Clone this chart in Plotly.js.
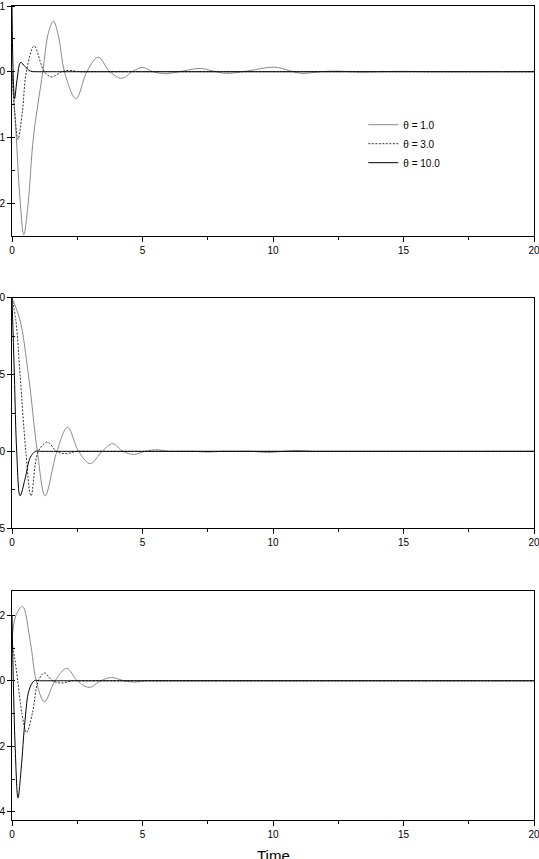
<!DOCTYPE html>
<html>
<head>
<meta charset="utf-8">
<script src="https://cdn.plot.ly/plotly-3.0.1.min.js"></script>
<style>
  html, body { margin: 0; padding: 0; background: #fff; }
  #responseChart { width: 539px; height: 859px; }
</style>
</head>
<body>
<div id="responseChart"></div>
<script>
// Legend names
var thetaLabels = ["\u03b8 = 1.0", "\u03b8 = 3.0", "\u03b8 = 10.0"];
var timeLabel = "Time";

// Top panel
var topTime1 = [0, 0.15, 0.3, 0.45, 0.62, 0.82, 1.18, 1.4, 1.59, 1.8, 2.01, 2.45, 2.87, 3.3, 3.75, 4.2, 4.6, 5.0, 5.4, 5.85, 6.4, 7.2, 7.7, 8.2, 9.0, 10.05, 10.6, 11.1, 11.8, 12.5, 13.3, 14.0, 15.0, 16.0, 17.0, 18.0, 19.0, 20.0];
var topValue1 = [0, -0.9, -1.9, -2.48, -2.0, -1.0, 0, 0.6, 0.77, 0.5, 0, -0.41, 0, 0.22, 0, -0.10, 0, 0.065, 0, -0.03, 0, 0.05, 0.01, -0.025, 0.01, 0.07, 0.02, -0.025, 0, 0.01, -0.005, 0, 0.006, 0, 0, 0, 0, 0];
var topTime3 = [0, 0.1, 0.23, 0.4, 0.55, 0.85, 1.24, 1.53, 1.9, 2.2, 2.6, 3.0, 3.5, 4.5, 6.0, 8.0, 10.0, 12.0, 14.0, 16.0, 18.0, 20.0];
var topValue3 = [0, -0.6, -1.03, -0.6, 0, 0.39, 0, -0.08, 0, 0.02, 0, 0, 0, 0, 0, 0, 0, 0, 0, 0, 0, 0];
var topTime10 = [0, 0.05, 0.1, 0.2, 0.33, 0.5, 0.7, 1.0, 1.3, 1.7, 2.3, 3.0, 4.0, 6.0, 8.0, 10.0, 12.0, 14.0, 16.0, 18.0, 20.0];
var topValue10 = [1.0, -0.1, -0.41, -0.1, 0.14, 0.08, 0.01, 0, 0, 0, 0, 0, 0, 0, 0, 0, 0, 0, 0, 0, 0];

// Middle panel
var midTime1 = [0, 0.3, 0.63, 0.97, 1.27, 1.72, 2.13, 2.55, 3.0, 3.45, 3.86, 4.25, 4.67, 5.1, 5.56, 6.0, 6.5, 7.0, 7.5, 8.0, 8.5, 9.2, 9.8, 10.4, 10.95, 11.5, 12.0, 13.0, 14.0, 15.0, 16.0, 17.0, 18.0, 19.0, 20.0];
var midValue1 = [1.0, 0.86, 0.5, 0, -0.29, 0, 0.157, 0, -0.08, 0, 0.05, 0, -0.02, 0, 0.01, 0, 0, 0, -0.005, 0, 0, 0, -0.008, 0, 0.006, 0, 0, 0, 0, 0, 0, 0, 0, 0, 0];
var midTime3 = [0, 0.15, 0.31, 0.53, 0.73, 1.01, 1.36, 1.7, 2.04, 2.5, 3.0, 3.5, 4.5, 6.0, 8.0, 10.0, 12.0, 14.0, 16.0, 18.0, 20.0];
var midValue3 = [1.0, 0.85, 0.5, 0, -0.29, 0, 0.06, 0, -0.015, 0, 0, 0, 0, 0, 0, 0, 0, 0, 0, 0, 0];
var midTime10 = [0, 0.09, 0.18, 0.31, 0.5, 0.7, 0.9, 1.1, 1.4, 1.8, 2.4, 3.0, 4.0, 6.0, 8.0, 10.0, 12.0, 14.0, 16.0, 18.0, 20.0];
var midValue10 = [1.0, 0.5, 0, -0.29, -0.18, -0.04, 0, 0, 0, 0, 0, 0, 0, 0, 0, 0, 0, 0, 0, 0, 0];

// Bottom panel
var botTime1 = [0, 0.15, 0.4, 0.7, 0.93, 1.24, 1.65, 2.1, 2.5, 2.96, 3.4, 3.8, 4.3, 4.7, 5.1, 5.5, 6.0, 7.0, 8.0, 9.0, 10.0, 12.0, 14.0, 16.0, 18.0, 20.0];
var botValue1 = [0.12, 0.2, 0.227, 0.12, 0, -0.064, 0, 0.038, 0, -0.02, 0, 0.01, 0, -0.004, 0, 0, 0, 0, 0, 0, 0, 0, 0, 0, 0, 0];
var botTime3 = [0, 0.1, 0.22, 0.38, 0.56, 0.78, 1.01, 1.24, 1.55, 1.91, 2.3, 2.7, 3.2, 4.0, 5.5, 7.0, 9.0, 11.0, 13.0, 15.0, 17.5, 20.0];
var botValue3 = [0.114, 0.07, 0, -0.1, -0.158, -0.1, 0, 0.024, 0, -0.007, 0, 0, 0, 0, 0, 0, 0, 0, 0, 0, 0, 0];
var botTime10 = [0, 0.05, 0.12, 0.23, 0.35, 0.5, 0.65, 0.85, 1.05, 1.3, 1.7, 2.3, 3.0, 4.0, 6.0, 8.0, 10.0, 12.0, 14.0, 16.0, 18.0, 20.0];
var botValue10 = [0.2, 0, -0.2, -0.358, -0.27, -0.12, -0.03, 0, 0, 0, 0, 0, 0, 0, 0, 0, 0, 0, 0, 0, 0, 0];

var lineStyles = [
    { color: "#8a8a8a", width: 1, dash: "solid" },
    { color: "#333333", width: 1, dash: "2px,1.5px" },
    { color: "#000000", width: 1, dash: "solid" }
];

function makeTrace(t, v, styleIndex, xa, ya, legend) {
    return {
        type: "scatter",
        mode: "lines",
        x: t,
        y: v,
        xaxis: xa,
        yaxis: ya,
        name: thetaLabels[styleIndex],
        showlegend: legend,
        line: {
            color: lineStyles[styleIndex].color,
            width: lineStyles[styleIndex].width,
            dash: lineStyles[styleIndex].dash,
            shape: "spline",
            smoothing: 1
        }
    };
}

var data = [
    makeTrace(topTime1, topValue1, 0, "x", "y", true),
    makeTrace(topTime3, topValue3, 1, "x", "y", true),
    makeTrace(topTime10, topValue10, 2, "x", "y", true),
    makeTrace(midTime1, midValue1, 0, "x2", "y2", false),
    makeTrace(midTime3, midValue3, 1, "x2", "y2", false),
    makeTrace(midTime10, midValue10, 2, "x2", "y2", false),
    makeTrace(botTime1, botValue1, 0, "x3", "y3", false),
    makeTrace(botTime3, botValue3, 1, "x3", "y3", false),
    makeTrace(botTime10, botValue10, 2, "x3", "y3", false)
];

function xAxis(anchor) {
    return {
        anchor: anchor,
        range: [0, 20],
        tick0: 0,
        dtick: 5,
        ticks: "outside",
        ticklen: 5,
        tickcolor: "#000",
        ticklabeloverflow: "allow",
        minor: { dtick: 2.5, ticks: "outside", ticklen: 3, tickcolor: "#000" },
        showgrid: false,
        zeroline: false,
        showline: true,
        linecolor: "#000",
        linewidth: 1,
        mirror: true,
        tickfont: { size: 10, color: "#000" }
    };
}

function yAxis(domain, range, step, minorStep, fmt, anchor) {
    return {
        domain: domain,
        anchor: anchor,
        range: range,
        tick0: 0,
        dtick: step,
        tickformat: fmt,
        ticks: "outside",
        ticklen: 4,
        tickcolor: "#000",
        ticklabeloverflow: "allow",
        minor: { dtick: minorStep, ticks: "inside", ticklen: 3, tickcolor: "#000" },
        showgrid: false,
        zeroline: false,
        showline: true,
        linecolor: "#000",
        linewidth: 1,
        mirror: true,
        tickfont: { size: 10, color: "#000" }
    };
}

var layout = {
    width: 539,
    height: 859,
    margin: { l: 12, r: 5, t: 6, b: 39 },
    paper_bgcolor: "#fff",
    plot_bgcolor: "#fff",
    font: { family: "Liberation Sans, Arial, sans-serif", color: "#000" },
    showlegend: true,
    legend: {
        x: 0.673,
        y: 0.872,
        xanchor: "left",
        yanchor: "top",
        bgcolor: "rgba(0,0,0,0)",
        font: { size: 10, color: "#000" },
        tracegroupgap: 0
    },
    // the axis title is kept inside the margin by plotly, so place it as a note below
    annotations: [{
        text: timeLabel,
        xref: "paper",
        yref: "paper",
        x: 0.5,
        y: -0.0305,
        xanchor: "center",
        yanchor: "top",
        showarrow: false,
        font: { size: 15, color: "#000" }
    }],
    xaxis: xAxis("y"),
    xaxis2: xAxis("y2"),
    xaxis3: xAxis("y3"),
    yaxis: yAxis([0.7174, 1], [-2.5, 1], 1, 0.5, "d", "x"),
    yaxis2: yAxis([0.3587, 0.6413], [-0.5, 1.0], 0.5, 0.25, ".1f", "x2"),
    yaxis3: yAxis([0, 0.2813], [-0.425, 0.274], 0.2, 0.1, ".1f", "x3")
};

Plotly.newPlot("responseChart", data, layout, { staticPlot: true });
</script>
</body>
</html>
